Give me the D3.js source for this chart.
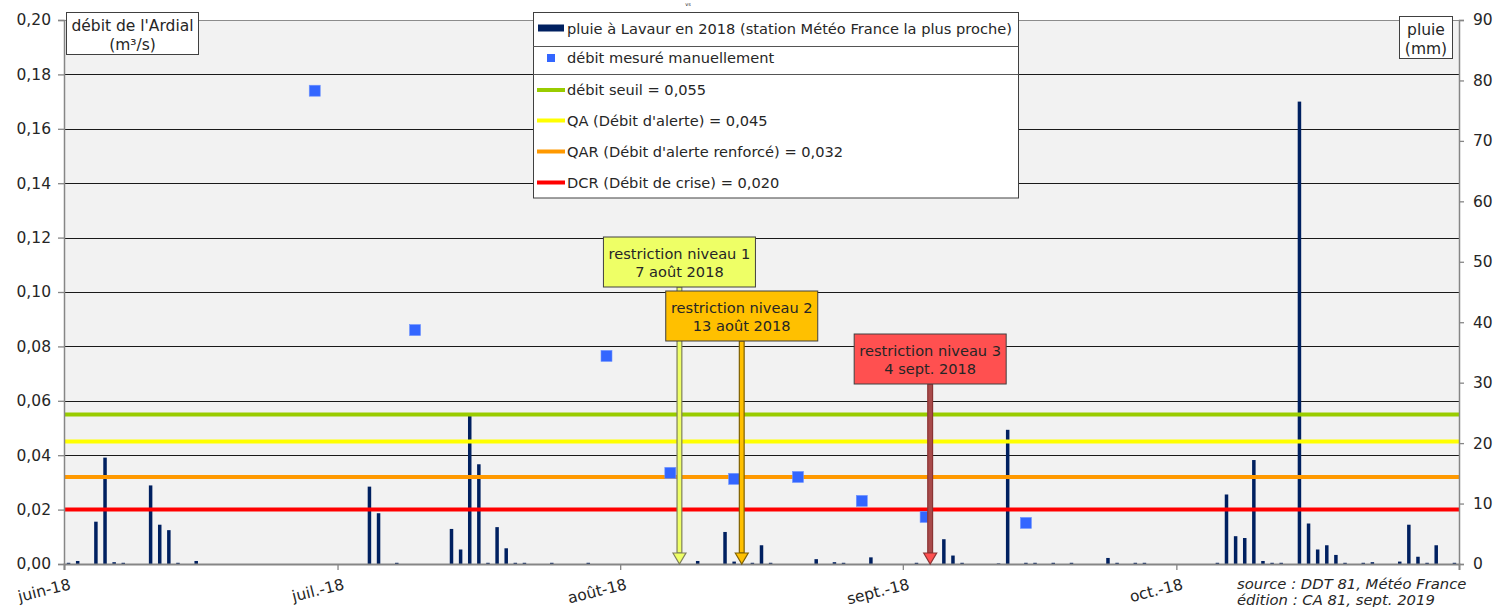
<!DOCTYPE html>
<html>
<head>
<meta charset="utf-8">
<script src="https://cdn.jsdelivr.net/npm/d3@7"></script>
<style>
  body { margin: 0; background: #fff; }
  svg text { font-family: "DejaVu Sans", Verdana, sans-serif; fill: #262626; }
</style>
</head>
<body>
<svg id="chart" width="1499" height="607"></svg>
<script>
// rain at Lavaur, daily (mm)
var rainDays = ["2018-06-01","2018-06-02","2018-06-04","2018-06-05","2018-06-06","2018-06-07","2018-06-10","2018-06-11","2018-06-12","2018-06-13","2018-06-15",
    "2018-07-04","2018-07-05","2018-07-07","2018-07-13","2018-07-14","2018-07-15","2018-07-16","2018-07-17","2018-07-18","2018-07-19","2018-07-20","2018-07-21","2018-07-24","2018-07-28",
    "2018-08-09","2018-08-12","2018-08-13","2018-08-15","2018-08-16","2018-08-17","2018-08-22","2018-08-24","2018-08-25","2018-08-28",
    "2018-09-02","2018-09-05","2018-09-06","2018-09-07","2018-09-11","2018-09-12","2018-09-14","2018-09-15","2018-09-17","2018-09-19","2018-09-23","2018-09-24","2018-09-26","2018-09-27",
    "2018-10-05","2018-10-06","2018-10-07","2018-10-08","2018-10-09","2018-10-10","2018-10-11","2018-10-12","2018-10-14","2018-10-15","2018-10-16","2018-10-17","2018-10-18","2018-10-19","2018-10-21","2018-10-22","2018-10-25","2018-10-26","2018-10-27","2018-10-28","2018-10-29","2018-10-31"];
var rainMm = [0.2,0.5,7.0,17.6,0.3,0.2,13.0,6.5,5.6,0.2,0.5,
    12.8,8.4,0.2,5.8,2.4,24.6,16.5,0.2,6.1,2.6,0.2,0.2,0.2,0.2,
    0.5,5.3,0.4,0.2,3.1,0.2,0.8,0.3,0.2,1.1,
    0.2,4.1,1.4,0.2,0.1,22.2,0.2,0.2,0.2,0.2,1.0,0.2,0.2,0.2,
    0.2,11.5,4.6,4.3,17.2,0.5,0.2,0.2,76.5,6.7,2.4,3.1,1.5,0.2,0.2,0.3,0.4,6.5,1.2,0.2,3.1,0.2];

// manual flow measurements (m3/s)
var flowDays = ["2018-06-28","2018-07-09","2018-07-30","2018-08-06","2018-08-13","2018-08-20","2018-08-27","2018-09-03","2018-09-14"];
var flowVals = [0.174,0.086,0.0765,0.0335,0.0313,0.032,0.0232,0.0173,0.0151];

// threshold lines
var thrNames = ["débit seuil = 0,055","QA (Débit d'alerte) = 0,045","QAR (Débit d'alerte renforcé) = 0,032","DCR (Débit de crise) = 0,020"];
var thrVals = [0.055,0.045,0.032,0.020];
var thrColors = ["#99cc00","#ffff00","#ff9900","#ff0000"];

// restriction callouts
var calloutLines = [["restriction niveau 1","7 août 2018"],["restriction niveau 2","13 août 2018"],["restriction niveau 3","4 sept. 2018"]];
var calloutAt = ["2018-08-07T12:00","2018-08-14T08:00","2018-09-04T00:00"];
var calloutFill = ["#eeff66","#ffc000","#ff5050"];
var calloutShaft = ["#eeff66","#ffc000","#a84a4a"];
var calloutStroke = ["#7f7f5a","#7f6000","#8b3333"];
var calloutTop = [237, 291, 334];

var monthLabels = ["juin-18","juil.-18","août-18","sept.-18","oct.-18"];
var flowTicks = [0,0.02,0.04,0.06,0.08,0.10,0.12,0.14,0.16,0.18,0.20];
var rainTicks = [0,10,20,30,40,50,60,70,80,90];

var parseDay = d3.utcParse("%Y-%m-%d"),
    parseTime = d3.utcParse("%Y-%m-%dT%H:%M");

var pLeft = 64, pRight = 1459, pTop = 20, pBottom = 564;
var svg = d3.select("#chart");

var x = d3.scaleUtc().domain([parseDay("2018-06-01"), parseDay("2018-11-01")]).range([pLeft, pRight]);
var yL = d3.scaleLinear().domain([0, 0.20]).range([pBottom, pTop]);
var yR = d3.scaleLinear().domain([0, 90]).range([pBottom, pTop]);
function mid(d) { return x(d3.utcHour.offset(d, 12)); }

svg.append("rect").attr("width", 1499).attr("height", 607).attr("fill", "#fff");
svg.append("rect").attr("x", pLeft).attr("y", pTop).attr("width", pRight - pLeft).attr("height", pBottom - pTop).attr("fill", "#f2f2f2");

// gridlines
svg.append("g").selectAll("line").data(flowTicks.filter(function (d) { return d > 0; }))
    .enter().append("line")
    .attr("x1", pLeft).attr("x2", pRight)
    .attr("y1", function (d) { return Math.round(yL(d)) + 0.5; })
    .attr("y2", function (d) { return Math.round(yL(d)) + 0.5; })
    .attr("stroke", function (d) { return d >= 0.2 ? "#8c8c8c" : "#1a1a1a"; })
    .attr("stroke-width", 1);

// rain bars
var rain = rainDays.map(function (d, i) { return { day: parseDay(d), mm: rainMm[i] }; });
svg.append("g").selectAll("rect").data(rain)
    .enter().append("rect")
    .attr("x", function (d) { return mid(d.day) - 1.75; })
    .attr("width", 3.5)
    .attr("y", function (d) { return yR(d.mm); })
    .attr("height", function (d) { return pBottom - yR(d.mm); })
    .attr("fill", "#002060");

// thresholds
svg.append("g").selectAll("line").data(thrVals)
    .enter().append("line")
    .attr("x1", pLeft).attr("x2", pRight)
    .attr("y1", function (d) { return yL(d); })
    .attr("y2", function (d) { return yL(d); })
    .attr("stroke", function (d, i) { return thrColors[i]; })
    .attr("stroke-width", 4);

// flow points
var flow = flowDays.map(function (d, i) { return { day: parseDay(d), v: flowVals[i] }; });
svg.append("g").selectAll("rect").data(flow)
    .enter().append("rect")
    .attr("x", function (d) { return mid(d.day) - 5.5; })
    .attr("y", function (d) { return yL(d.v) - 5.5; })
    .attr("width", 11).attr("height", 11)
    .attr("fill", "#3366ff")
    .attr("stroke", "#6f94ff").attr("stroke-width", 0.6);

// axes
var axL = svg.append("g").attr("transform", "translate(" + pLeft + ",0)")
    .call(d3.axisLeft(yL).tickValues(flowTicks).tickSize(6).tickPadding(7)
        .tickFormat(function (d) { return d3.format(".2f")(d).replace(".", ","); }));
var axR = svg.append("g").attr("transform", "translate(" + pRight + ",0)")
    .call(d3.axisRight(yR).tickValues(rainTicks).tickSize(5).tickPadding(9));
var axB = svg.append("g").attr("transform", "translate(0," + pBottom + ")")
    .call(d3.axisBottom(x).tickValues(d3.utcMonth.range(parseDay("2018-06-01"), parseDay("2018-11-01")))
        .tickSize(6).tickFormat(function (d, i) { return monthLabels[i]; }));

[axL, axR, axB].forEach(function (a) {
    a.select(".domain").attr("stroke", "#868686").attr("stroke-width", 1.5);
    a.selectAll(".tick line").attr("stroke", "#868686").attr("stroke-width", 1.3);
    a.selectAll("text").attr("font-size", 15.5).attr("fill", "#262626")
        .style("font-family", "'DejaVu Sans', Verdana, sans-serif");
});
axB.select(".domain").attr("stroke-width", 2);
axB.selectAll(".tick text")
    .attr("text-anchor", "end")
    .attr("dy", null)
    .attr("y", 0)
    .attr("transform", "translate(7,25) rotate(-14)");

// callouts
calloutLines.forEach(function (lines, i) {
    var cx = x(parseTime(calloutAt[i])),
        t = calloutTop[i], w = 152, h = 50,
        g = svg.append("g");
    var sw = 2.4, hw = 6.5, hh = 11, b = t + h;
    g.append("rect").attr("x", cx - sw).attr("y", b).attr("width", 2 * sw).attr("height", pBottom - hh - b)
        .attr("fill", calloutShaft[i]).attr("stroke", calloutStroke[i]).attr("stroke-width", 1.2);
    g.append("path")
        .attr("d", "M" + (cx - hw) + "," + (pBottom - hh) + "L" + cx + "," + pBottom + "L" + (cx + hw) + "," + (pBottom - hh) + "Z")
        .attr("fill", calloutFill[i]).attr("stroke", calloutStroke[i]).attr("stroke-width", 1.2);
    g.append("rect").attr("x", cx - w / 2).attr("y", t).attr("width", w).attr("height", h)
        .attr("fill", calloutFill[i]).attr("stroke", "#404040").attr("stroke-width", 1);
    g.selectAll("text").data(lines).enter().append("text")
        .attr("x", cx).attr("y", function (d, j) { return t + 22 + j * 18; })
        .attr("text-anchor", "middle").attr("font-size", 14.6).attr("fill", "#333")
        .text(function (d) { return d; });
});

// axis title boxes
function titleBox(x0, y0, w, h, lines) {
    svg.append("rect").attr("x", x0).attr("y", y0).attr("width", w).attr("height", h)
        .attr("fill", "#fff").attr("stroke", "#404040").attr("stroke-width", 1);
    svg.append("g").selectAll("text").data(lines).enter().append("text")
        .attr("x", x0 + w / 2).attr("y", function (d, j) { return y0 + 18 + j * 19; })
        .attr("text-anchor", "middle").attr("font-size", 15.5)
        .text(function (d) { return d; });
}
titleBox(66.5, 12.5, 132, 42, ["débit de l'Ardial", "(m³/s)"]);
titleBox(1399.5, 16.5, 53, 42, ["pluie", "(mm)"]);

// legend
var lg = svg.append("g");
var lx0 = 533, lx1 = 1018, ly0 = 12.5, ly1 = 198;
lg.append("rect").attr("x", lx0 + 0.5).attr("y", ly0).attr("width", lx1 - lx0).attr("height", ly1 - ly0)
    .attr("fill", "#fff").attr("stroke", "#404040").attr("stroke-width", 1);
[46.5, 74.5].forEach(function (yy) {
    lg.append("line").attr("x1", lx0).attr("x2", lx1 + 0.5).attr("y1", yy).attr("y2", yy)
        .attr("stroke", "#555").attr("stroke-width", 1);
});
lg.append("rect").attr("x", 538).attr("y", 24.5).attr("width", 26).attr("height", 7).attr("fill", "#002060");
lg.append("text").attr("x", 567).attr("y", 33.5).attr("font-size", 14.6)
    .text("pluie à Lavaur en 2018 (station Météo France la plus proche)");
lg.append("rect").attr("x", 547).attr("y", 54).attr("width", 8).attr("height", 8).attr("fill", "#3366ff");
lg.append("text").attr("x", 567).attr("y", 63).attr("font-size", 14.6).text("débit mesuré manuellement");
var rowY = [90, 120.5, 151.5, 182.5];
thrNames.forEach(function (name, i) {
    lg.append("line").attr("x1", 537).attr("x2", 565).attr("y1", rowY[i]).attr("y2", rowY[i])
        .attr("stroke", thrColors[i]).attr("stroke-width", 4);
    lg.append("text").attr("x", 567).attr("y", rowY[i] + 5).attr("font-size", 14.6).text(name);
});

// tiny marker at top
svg.append("text").attr("x", 688).attr("y", 6).attr("font-size", 5).attr("text-anchor", "middle")
    .attr("fill", "#888").text("vs");

// source
svg.append("text").attr("x", 1237).attr("y", 589).attr("font-size", 14.8).attr("font-style", "italic")
    .text("source : DDT 81, Météo France");
svg.append("text").attr("x", 1237).attr("y", 605).attr("font-size", 14.8).attr("font-style", "italic")
    .text("édition : CA 81, sept. 2019");
</script>
</body>
</html>
